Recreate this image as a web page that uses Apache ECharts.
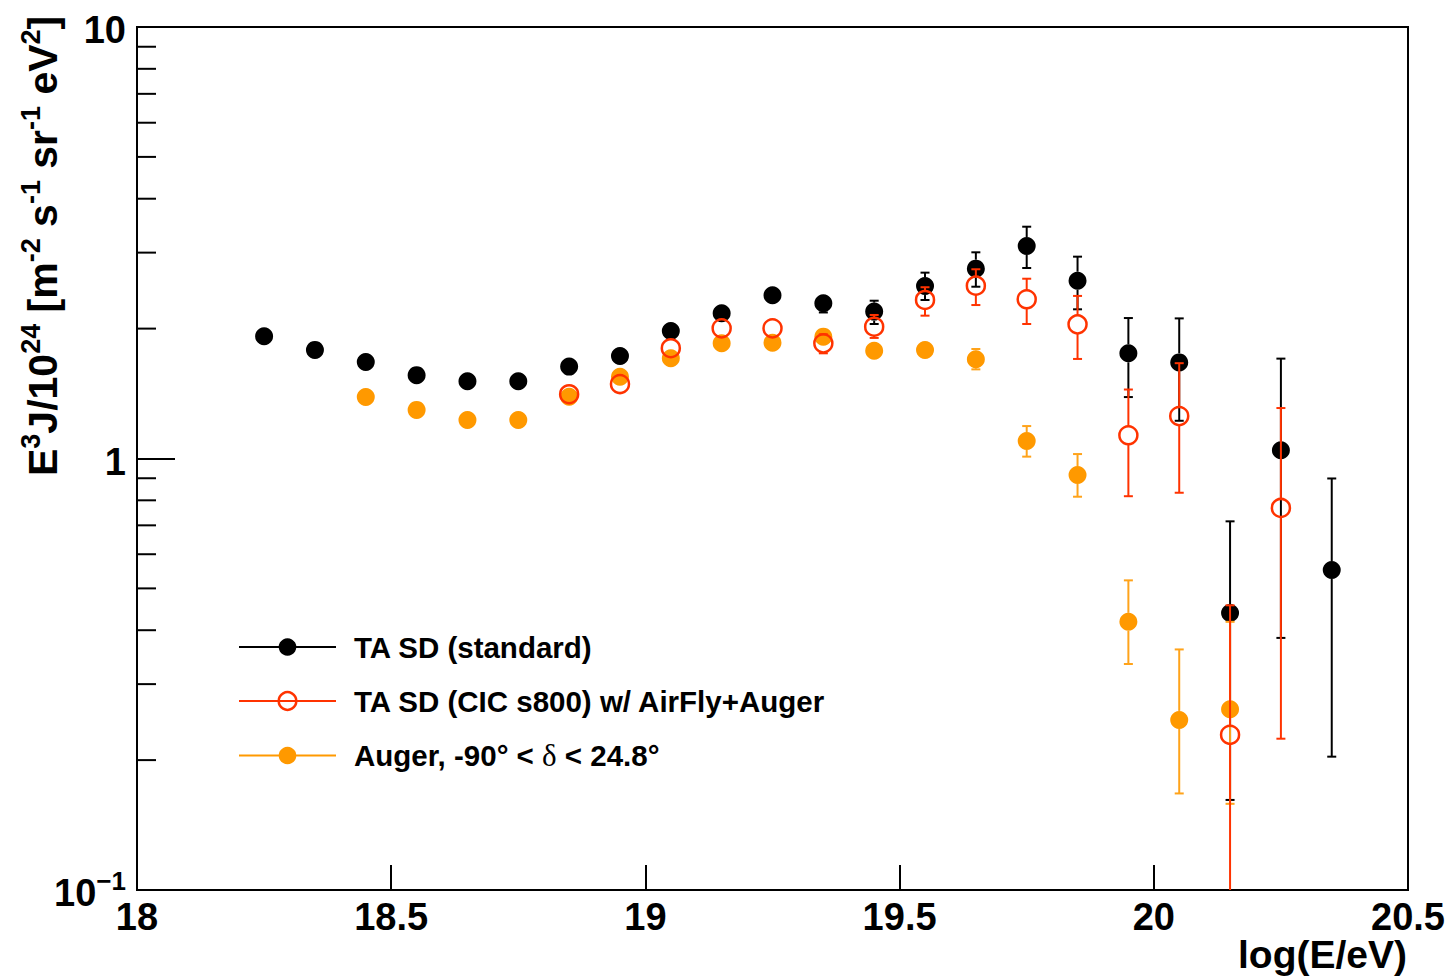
<!DOCTYPE html>
<html><head><meta charset="utf-8">
<script src="https://cdn.jsdelivr.net/npm/echarts@6/dist/echarts.min.js"></script>
<style>html,body{margin:0;padding:0;background:#fff}#c{width:1448px;height:978px}</style>
</head><body><div id="c"></div>
<script>
// ---- data (log10(E/eV), E^3 J / 10^24) ----
const taStdX  = [18.25,18.35,18.45,18.55,18.65,18.75,18.85,18.95,19.05,19.15,19.25,19.35,19.45,19.55,19.65,19.75,19.85,19.95,20.05,20.15,20.25,20.35];
const taStdY  = [1.92,1.785,1.673,1.56,1.51,1.51,1.633,1.728,1.974,2.171,2.39,2.289,2.19,2.51,2.754,3.108,2.582,1.753,1.670,0.4385,1.045,0.5515];
const taStdLo = [1.90,1.77,1.66,1.54,1.49,1.49,1.61,1.70,1.94,2.12,2.33,2.18,2.05,2.33,2.501,2.764,2.217,1.388,1.223,0.1617,0.3839,0.2037];
const taStdHi = [1.94,1.80,1.69,1.58,1.53,1.53,1.66,1.76,2.01,2.22,2.45,2.40,2.321,2.696,3.005,3.445,2.936,2.116,2.112,0.7151,1.704,0.8989];

const taCicX  = [18.85,18.95,19.05,19.15,19.25,19.35,19.45,19.55,19.65,19.75,19.85,19.95,20.05,20.15,20.25];
const taCicY  = [1.409,1.488,1.801,2.003,2.003,1.849,2.02,2.33,2.515,2.339,2.046,1.132,1.254,0.2289,0.768];
const taCicLo = [1.39,1.47,1.77,1.97,1.97,1.753,1.903,2.143,2.268,2.05,1.701,0.8177,0.833,0.05,0.2242];
const taCicHi = [1.43,1.51,1.83,2.04,2.04,1.94,2.151,2.494,2.745,2.61,2.381,1.445,1.663,0.4568,1.309];

const augerX  = [18.45,18.55,18.65,18.75,18.85,18.95,19.05,19.15,19.25,19.35,19.45,19.55,19.65,19.75,19.85,19.95,20.05,20.15];
const augerY  = [1.388,1.296,1.228,1.228,1.390,1.547,1.707,1.849,1.855,1.916,1.777,1.784,1.698,1.098,0.9158,0.4183,0.2478,0.2624];
const augerLo = [1.375,1.285,1.215,1.215,1.38,1.535,1.69,1.835,1.84,1.90,1.755,1.76,1.609,1.01,0.8155,0.334,0.1674,0.1584];
const augerHi = [1.40,1.31,1.24,1.24,1.40,1.56,1.72,1.86,1.87,1.93,1.80,1.81,1.794,1.189,1.024,0.5219,0.361,0.4183];

const yMinorTicks = [0.2,0.3,0.4,0.5,0.6,0.7,0.8,0.9,2,3,4,5,6,7,8,9];
const seriesNames = ['TA SD (standard)', 'TA SD (CIC s800) w/ AirFly+Auger', 'Auger, -90° < δ < 24.8°'];

const BLACK = '#000000', RED = '#ff3300', ORANGE = '#ff9900', ORANGE_BAR = '#ffa31a';
const FONT = 'Liberation Sans, Arial, Helvetica, sans-serif';
const R = 9;

function errSeries(xs, ys, lo, hi, color, z) {
  return {
    type: 'custom', silent: true, z: z, animation: false,
    encode: { x: 0, y: 1 },
    data: xs.map((x, i) => [x, ys[i], lo[i], hi[i]]),
    renderItem: function (params, api) {
      const x = api.value(0);
      const c = api.coord([x, api.value(1)]);
      const yTop = api.coord([18, 10])[1];
      const yBot = api.coord([18, 0.1])[1];
      let t = api.coord([x, api.value(3)])[1];
      let b = api.coord([x, api.value(2)])[1];
      const st = { stroke: color, lineWidth: 2 };
      const ch = [];
      let capT = true, capB = true;
      if (t < yTop) { t = yTop; capT = false; }
      if (!(b <= yBot)) { b = yBot; capB = false; }
      const cx = c[0];
      if (t < c[1] - R) {
        ch.push({ type: 'line', shape: { x1: cx, y1: t, x2: cx, y2: c[1] - R }, style: st });
        if (capT) ch.push({ type: 'line', shape: { x1: cx - 4.5, y1: t, x2: cx + 4.5, y2: t }, style: st });
      }
      if (b > c[1] + R) {
        ch.push({ type: 'line', shape: { x1: cx, y1: c[1] + R, x2: cx, y2: b }, style: st });
        if (capB) ch.push({ type: 'line', shape: { x1: cx - 4.5, y1: b, x2: cx + 4.5, y2: b }, style: st });
      }
      return { type: 'group', children: ch };
    }
  };
}

function ptSeries(name, xs, ys, itemStyle, lineColor, z) {
  return {
    type: 'line', name: name, z: z, silent: true, animation: false,
    data: xs.map((x, i) => [x, ys[i]]),
    symbol: 'circle', symbolSize: 2 * R, showSymbol: true, showAllSymbol: true,
    lineStyle: { width: 0, color: lineColor },
    itemStyle: itemStyle,
    emphasis: { disabled: true }
  };
}

const chart = echarts.init(document.getElementById('c'), null, { renderer: 'svg', width: 1448, height: 978 });

const option = {
  backgroundColor: '#ffffff',
  animation: false,
  grid: { left: 137, right: 40, top: 27, bottom: 88, containLabel: false, outerBoundsMode: 'none',
          show: true, borderColor: '#000', borderWidth: 2, backgroundColor: 'transparent' },
  xAxis: {
    type: 'value', min: 18, max: 20.5, interval: 0.5,
    axisLine: { show: true, lineStyle: { color: '#000', width: 2 } },
    axisTick: { show: true, inside: true, length: 25, lineStyle: { color: '#000', width: 2 } },
    splitLine: { show: false },
    axisLabel: { color: '#000', fontFamily: FONT, fontWeight: 'bold', fontSize: 38, margin: 8,
                 showMinLabel: true, showMaxLabel: true, hideOverlap: false }
  },
  yAxis: {
    type: 'log', logBase: 10, min: 0.1, max: 10,
    axisLine: { show: true, lineStyle: { color: '#000', width: 2 } },
    axisTick: { show: true, inside: true, length: 38, lineStyle: { color: '#000', width: 2 } },
    splitLine: { show: false },
    axisLabel: {
      margin: 11, color: '#000', fontFamily: FONT, fontWeight: 'bold', fontSize: 38,
      showMinLabel: true, showMaxLabel: true,
      formatter: function (v) {
        const e = Math.round(Math.log10(v));
        if (e === 0) return '{b|1}';
        if (e === 1) return '{b|10}';
        return '{b|10}{s|−1}';
      },
      rich: {
        b: { fontFamily: FONT, fontWeight: 'bold', fontSize: 38, lineHeight: 44, verticalAlign: 'bottom', color: '#000' },
        s: { fontFamily: FONT, fontWeight: 'bold', fontSize: 26, lineHeight: 16, verticalAlign: 'top', color: '#000' }
      }
    }
  },
  legend: {
    orient: 'vertical', left: 238, top: 632, padding: 0, itemGap: 24,
    itemWidth: 97, itemHeight: 22, selectedMode: false,
    data: [
      { name: seriesNames[0], itemStyle: { color: BLACK, borderWidth: 0 }, lineStyle: { color: BLACK, width: 2 } },
      { name: seriesNames[1], itemStyle: { color: 'rgba(0,0,0,0)', borderColor: RED, borderWidth: 2.5 }, lineStyle: { color: RED, width: 2 } },
      { name: seriesNames[2], itemStyle: { color: ORANGE, borderWidth: 0 }, lineStyle: { color: ORANGE, width: 2 } }
    ],
    formatter: function (name) {
      if (name === seriesNames[2]) return '{n|Auger, -90° < }{d|δ}{n| < 24.8°}';
      return '{n|' + name + '}';
    },
    textStyle: {
      color: '#000', fontFamily: FONT, fontWeight: 'bold', fontSize: 29.5, lineHeight: 30, padding: [0, 0, 0, 13],
      rich: {
        n: { color: '#000', fontFamily: FONT, fontWeight: 'bold', fontSize: 29.5, lineHeight: 30 },
        d: { color: '#000', fontFamily: 'Liberation Serif, DejaVu Serif, serif', fontWeight: 'normal', fontSize: 31, lineHeight: 30 }
      }
    }
  },
  graphic: [
    {
      type: 'text', x: 40, y: 476, rotation: Math.PI / 2, silent: true,
      style: {
        text: '{m|E}{s|3}{m|J/10}{s|24}{m| [m}{s|-2}{m| s}{s|-1}{m| sr}{s|-1}{m| eV}{s|2}{m|]}',
        align: 'left', verticalAlign: 'middle', fill: '#000',
        font: 'bold 41px ' + FONT,
        rich: {
          m: { fontFamily: FONT, fontWeight: 'bold', fontSize: 41, lineHeight: 46, verticalAlign: 'bottom', fill: '#000', color: '#000' },
          s: { fontFamily: FONT, fontWeight: 'bold', fontSize: 27, lineHeight: 24, verticalAlign: 'top', fill: '#000', color: '#000' }
        }
      }
    },
    {
      type: 'text', x: 1407, y: 935, silent: true,
      style: { text: 'log(E/eV)', align: 'right', verticalAlign: 'top', fill: '#000', font: 'bold 39px ' + FONT }
    }
  ],
  series: [
    {
      type: 'custom', silent: true, z: 1, animation: false,
      data: yMinorTicks.map(v => [18, v]),
      encode: { x: 0, y: 1 },
      renderItem: function (params, api) {
        const p = api.coord([api.value(0), api.value(1)]);
        return { type: 'line', shape: { x1: p[0], y1: p[1], x2: p[0] + 19, y2: p[1] }, style: { stroke: '#000', lineWidth: 2 } };
      }
    },
    errSeries(taStdX, taStdY, taStdLo, taStdHi, BLACK, 3),
    ptSeries(seriesNames[0], taStdX, taStdY, { color: BLACK }, BLACK, 4),
    errSeries(augerX, augerY, augerLo, augerHi, ORANGE_BAR, 5),
    ptSeries(seriesNames[2], augerX, augerY, { color: ORANGE }, ORANGE, 6),
    errSeries(taCicX, taCicY, taCicLo, taCicHi, RED, 7),
    ptSeries(seriesNames[1], taCicX, taCicY, { color: 'rgba(0,0,0,0)', borderColor: RED, borderWidth: 2.5 }, RED, 8)
  ]
};
chart.setOption(option);
</script>
</body></html>
